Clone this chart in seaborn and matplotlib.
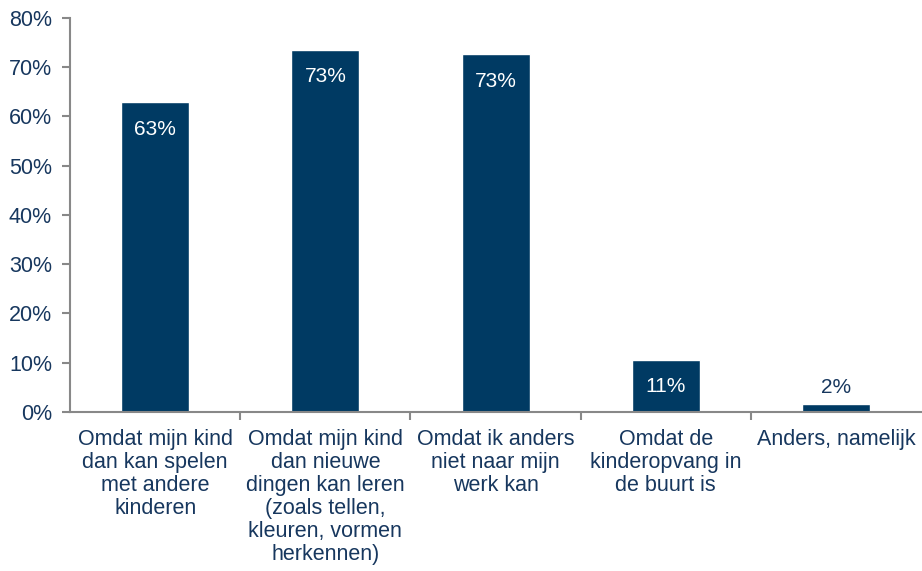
import matplotlib
matplotlib.use("Agg")
import matplotlib.pyplot as plt
import seaborn as sns
from matplotlib.ticker import FixedLocator, PercentFormatter

sns.set_theme(style="white")
plt.rcParams["font.family"] = ["Liberation Sans", "DejaVu Sans"]

categories = [
    "Omdat mijn kind\ndan kan spelen\nmet andere\nkinderen",
    "Omdat mijn kind\ndan nieuwe\ndingen kan leren\n(zoals tellen,\nkleuren, vormen\nherkennen)",
    "Omdat ik anders\nniet naar mijn\nwerk kan",
    "Omdat de\nkinderopvang in\nde buurt is",
    "Anders, namelijk",
]
values = [62.9, 73.5, 72.6, 10.6, 1.7]
value_labels = ["63%", "73%", "73%", "11%", "2%"]

BAR = "#003A63"
TEXT = "#17375E"
AXIS = "#888888"
FS = 15.5

fig = plt.figure(figsize=(9.22, 5.71), dpi=100)
ax = fig.add_axes([0.076, 0.2785, 0.923, 0.69])

sns.barplot(x=categories, y=values, color=BAR, width=0.4, saturation=1, ax=ax)

ax.set_xlim(-0.5, len(categories) - 0.5)
ax.set_ylim(0, 80)
ax.set_yticks(range(0, 81, 10))
ax.yaxis.set_major_formatter(PercentFormatter(decimals=0))

for side in ["top", "right"]:
    ax.spines[side].set_visible(False)
for side in ["left", "bottom"]:
    ax.spines[side].set_color(AXIS)
    ax.spines[side].set_linewidth(1.5)

ax.tick_params(axis="y", direction="out", length=6, width=1.5, color=AXIS,
               labelsize=FS, labelcolor=TEXT, pad=7, left=True)
ax.tick_params(axis="x", which="major", length=0, labelsize=FS, labelcolor=TEXT, pad=12)
ax.xaxis.set_minor_locator(FixedLocator([i + 0.5 for i in range(len(categories) - 1)]))
ax.tick_params(axis="x", which="minor", direction="out", length=6, width=1.5, color=AXIS, bottom=True)
for lbl in ax.get_xticklabels():
    lbl.set_linespacing(1.13)
    lbl.set_va("top")

ax.set_xlabel("")
ax.set_ylabel("")
ax.grid(False)

for p, v, txt in zip(ax.patches, values, value_labels):
    cx = p.get_x() + p.get_width() / 2
    if v > 8:
        ax.annotate(txt, (cx, p.get_height()), xytext=(0, -27), textcoords="offset pixels",
                    ha="center", va="center", color="white", fontsize=15)
    else:
        ax.annotate(txt, (cx, p.get_height()), xytext=(0, 16), textcoords="offset pixels",
                    ha="center", va="center", color=TEXT, fontsize=15)

fig.savefig("out.png", dpi=100)
